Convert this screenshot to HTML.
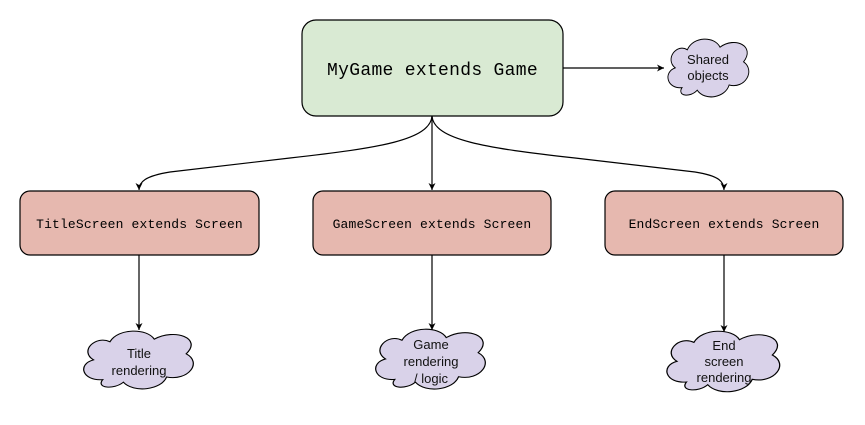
<!DOCTYPE html>
<html><head><meta charset="utf-8"><style>
html,body{margin:0;padding:0;background:#fff;width:865px;height:425px;overflow:hidden}
svg{display:block}
.m{font-family:"Liberation Mono",monospace;fill:#000}
.s{font-family:"Liberation Sans",sans-serif;font-size:13px;fill:#111}
</style></head><body>
<svg width="865" height="425" viewBox="0 0 865 425">
<defs>
<marker id="a" markerWidth="8" markerHeight="8" refX="7" refY="4" orient="auto" markerUnits="userSpaceOnUse">
<path d="M0,0.5 L7,4 L0,7.5 L2,4 Z" fill="#000"/></marker>
<path id="cl" d="M25 60 C5 62 0 42 16 37 C2 27 18 8 32 16 C40 0 68 0 75 13 C95 0 122 12 106 30 C122 40 108 62 87 57 C82 72 55 76 45 63 C36 72 18 70 25 60 Z"/>
</defs>
<g fill="none" stroke="#000" stroke-width="1.2">
<path d="M563 68 L664 68" marker-end="url(#a)"/>
<path d="M432 116 L432 190" marker-end="url(#a)"/>
<path d="M432 116 C430 140 380 148 290 158 L170 172 C145 176 139 182 139 190" marker-end="url(#a)"/>
<path d="M432 116 C434 140 485 148 575 158 L695 172 C720 176 724 182 724 190" marker-end="url(#a)"/>
<path d="M139 255 L139 330" marker-end="url(#a)"/>
<path d="M432 255 L432 330" marker-end="url(#a)"/>
<path d="M724 255 L724 332" marker-end="url(#a)"/>
</g>
<rect x="302" y="20" width="261" height="96" rx="14" fill="#d9ead3" stroke="#000" stroke-width="1.2"/>
<text x="432.5" y="75" text-anchor="middle" class="m" font-size="18" letter-spacing="0.3">MyGame extends Game</text>
<rect x="20" y="191" width="239" height="64" rx="10" fill="#e6b8af" stroke="#000" stroke-width="1.2"/>
<text x="139.5" y="228" text-anchor="middle" class="m" font-size="13" letter-spacing="0.15">TitleScreen extends Screen</text>
<rect x="313" y="191" width="238" height="64" rx="10" fill="#e6b8af" stroke="#000" stroke-width="1.2"/>
<text x="432" y="228" text-anchor="middle" class="m" font-size="13" letter-spacing="0.15">GameScreen extends Screen</text>
<rect x="605" y="191" width="238" height="64" rx="10" fill="#e6b8af" stroke="#000" stroke-width="1.2"/>
<text x="724" y="228" text-anchor="middle" class="m" font-size="13" letter-spacing="0.15">EndScreen extends Screen</text>
<g fill="#d9d2e9" stroke="#000" stroke-width="1.2">
<use href="#cl" transform="translate(663,36) scale(0.76,0.86)"/>
<use href="#cl" transform="translate(77,328) scale(1.03,0.86)"/>
<use href="#cl" transform="translate(369,326) scale(1.03,0.89)"/>
<use href="#cl" transform="translate(660,328) scale(1.06,0.9)"/>
</g>
<text x="708" y="64" text-anchor="middle" class="s">Shared</text>
<text x="708" y="80" text-anchor="middle" class="s">objects</text>
<text x="139" y="358" text-anchor="middle" class="s">Title</text>
<text x="139" y="375" text-anchor="middle" class="s">rendering</text>
<text x="431" y="349" text-anchor="middle" class="s">Game</text>
<text x="431" y="366" text-anchor="middle" class="s">rendering</text>
<text x="431" y="383" text-anchor="middle" class="s">/ logic</text>
<text x="724" y="350" text-anchor="middle" class="s">End</text>
<text x="724" y="366" text-anchor="middle" class="s">screen</text>
<text x="724" y="382" text-anchor="middle" class="s">rendering</text>
</svg>
</body></html>
